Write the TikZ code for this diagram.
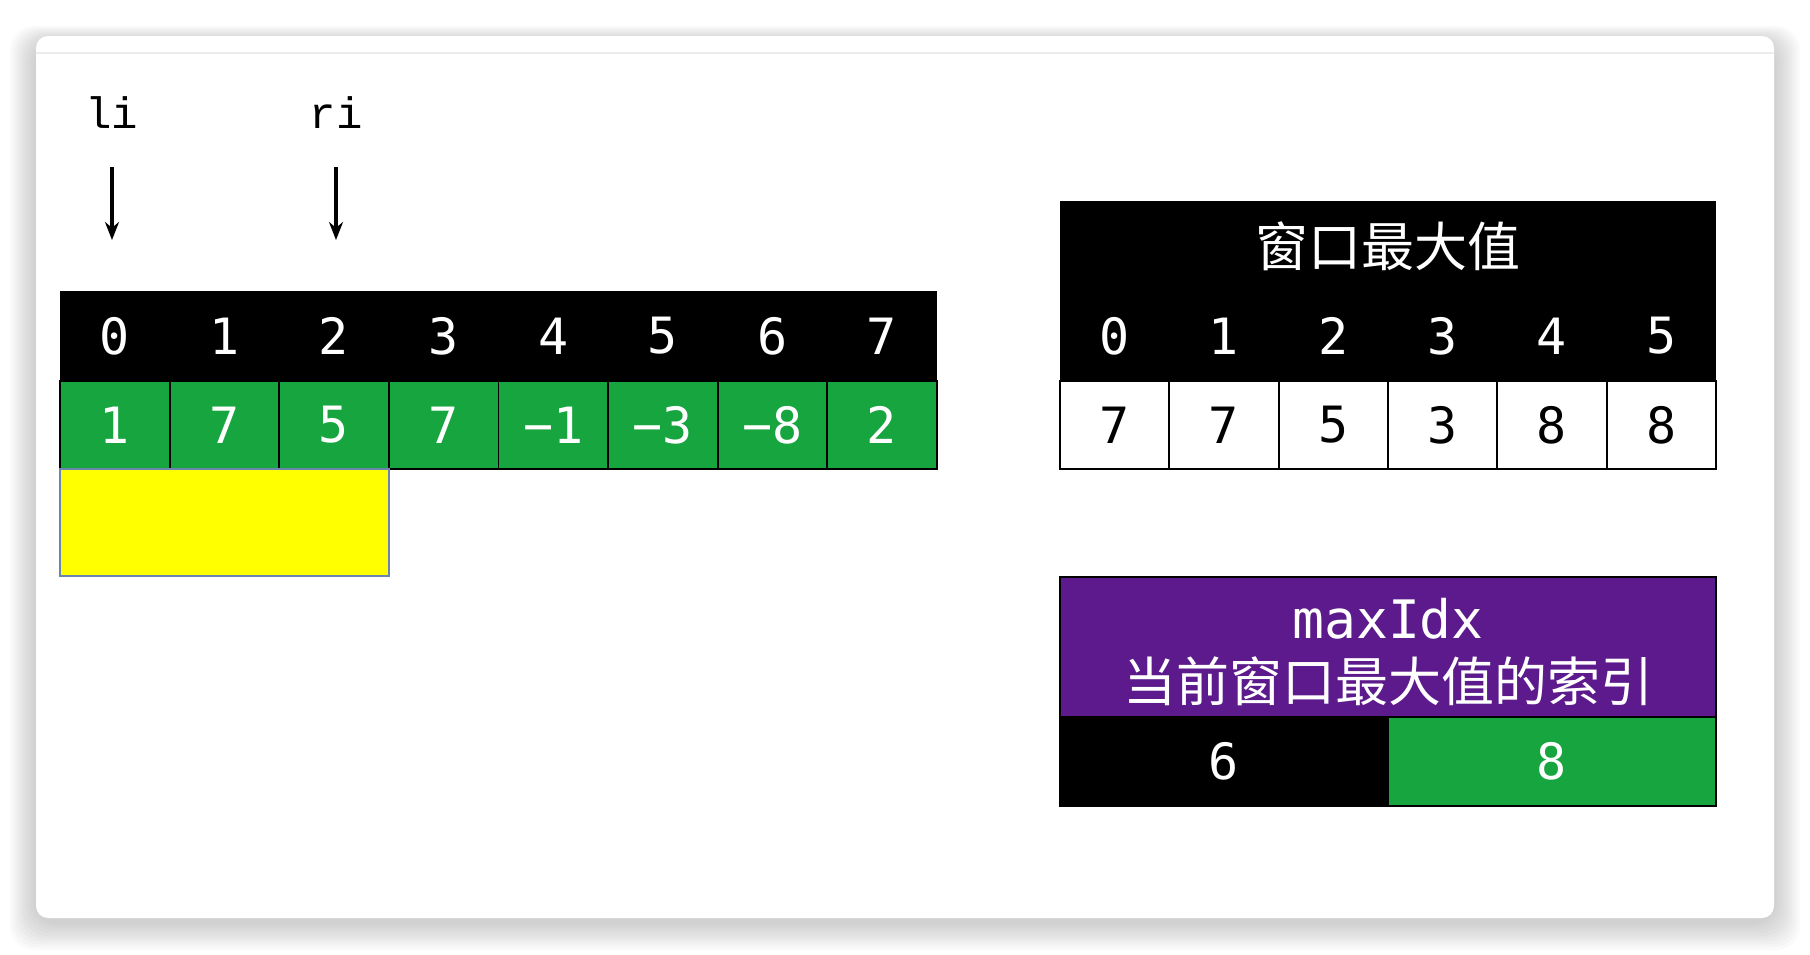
\documentclass[tikz,border=0pt]{standalone}
\usepackage{fontspec}
\usetikzlibrary{arrows.meta}
\newfontfamily\dmono{DejaVu Sans Mono}
\newfontfamily\cmono{Liberation Mono}
\newfontfamily\cjk{Noto Sans CJK SC}
\definecolor{cgreen}{HTML}{17A540}
\definecolor{cpurple}{HTML}{5C1A8C}
\definecolor{cyellow}{HTML}{FFFF00}
\definecolor{yborder}{HTML}{6A86B0}
\begin{document}
\begin{tikzpicture}[x=0.5pt,y=-0.5pt,
  cell/.style={anchor=north west, inner sep=0pt, outer sep=0pt, font=\dmono\fontsize{25}{30}\selectfont},
  lcell/.style={cell, minimum width=54.8pt},
  rcell/.style={cell, minimum width=54.67pt},
  hdr/.style={fill=black, text=white, minimum height=45pt},
  gval/.style={fill=cgreen, text=white, draw=black, line width=0.9pt, minimum height=44pt},
  wval/.style={fill=white, text=black, draw=black, line width=0.9pt, minimum height=44pt},
  ptr/.style={font=\cmono\fontsize{22}{26}\selectfont, inner sep=0pt},
  arr/.style={line width=1.6pt, -{Stealth[length=9pt,width=7pt]}},
  cjkt/.style={font=\cjk\fontsize{26.5}{31}\selectfont, text=white, inner sep=0pt},
]
\useasboundingbox (0,0) rectangle (1810,954);
% shadow
\foreach \k in {1,...,10}{
  \fill[black, opacity=0.018, rounded corners=12pt] (36-2.6*\k,36-1.6*\k+6) rectangle (1774+2.6*\k,918+2.8*\k+4);
}
% card
\fill[white, rounded corners=6pt] (36,36) rectangle (1774,918);
\draw[black!7, line width=1pt] (36,53) -- (1774,53);

% pointers
\node[ptr] (li) at (112,113) {li};
\node[ptr] (ri) at (336,113) {ri};
\coordinate (la) at (112,167); \coordinate (lb) at (112,240);
\coordinate (ra) at (336,167); \coordinate (rb) at (336,240);
\draw[arr] (la) -- (lb);
\draw[arr] (ra) -- (rb);

% left array
\foreach \v [count=\i from 0] in {1,7,5,7,\char"2212 1,\char"2212 3,\char"2212 8,2}{
  \node[lcell, hdr] (h\i) at (60+109.6*\i,291) {\i};
  \node[lcell, gval] (v\i) at (60+109.6*\i,381) {\v};
}
\node[anchor=north west, inner sep=0pt, outer sep=0pt, minimum width=164.5pt, minimum height=53.5pt,
      fill=cyellow, draw=yborder, line width=0.8pt] (win) at (60,469) {};

% right table: window max
\node[anchor=north west, inner sep=0pt, outer sep=0pt, minimum width=328pt, minimum height=45pt, fill=black] (ttl) at (1060,201) {};
\node[cjkt] (ttltext) at (1388,246) {窗口最大值};
\foreach \v [count=\i from 0] in {7,7,5,3,8,8}{
  \node[rcell, hdr] (m\i) at (1060+109.33*\i,291) {\i};
  \node[rcell, wval] (w\i) at (1060+109.33*\i,381) {\v};
}

% maxIdx box
\node[anchor=north west, inner sep=0pt, outer sep=0pt, minimum width=328pt, minimum height=70pt,
      fill=cpurple, draw=black, line width=0.9pt] (mx) at (1060,577) {};
\node[font=\dmono\fontsize{26.5}{30}\selectfont, text=white, inner sep=0pt] (mxname) at (1388,619) {maxIdx};
\node[cjkt] (mxdesc) at (1388,681) {当前窗口最大值的索引};
\node[anchor=north west, inner sep=0pt, outer sep=0pt, minimum width=164pt, minimum height=44.5pt,
      fill=black, text=white, draw=black, line width=0.9pt, font=\dmono\fontsize{25}{30}\selectfont] (old) at (1060,717) {6};
\node[anchor=north west, inner sep=0pt, outer sep=0pt, minimum width=164pt, minimum height=44.5pt,
      fill=cgreen, text=white, draw=black, line width=0.9pt, font=\dmono\fontsize{25}{30}\selectfont] (new) at (1388,717) {8};
\end{tikzpicture}
\end{document}
